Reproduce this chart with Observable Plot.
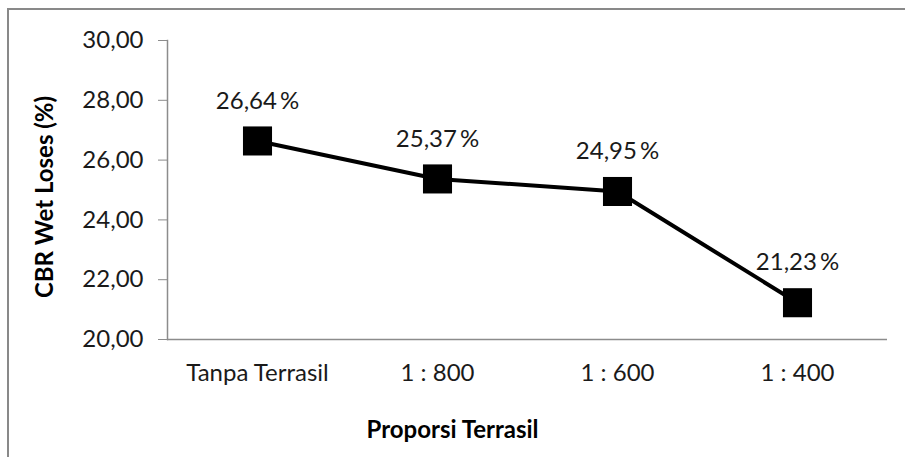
<!DOCTYPE html>
<html>
<head>
<meta charset="utf-8">
<script src="https://cdn.jsdelivr.net/npm/d3@7"></script>
<script src="https://cdn.jsdelivr.net/npm/@observablehq/plot@0.6"></script>
<style>
  html, body { margin: 0; padding: 0; background: #fff; overflow: hidden; }
  #wrap { position: relative; width: 905px; height: 457px; }
  #border { position: absolute; left: 7px; top: 8px; width: 1000px; height: 1000px; border: 2px solid #898989; box-sizing: border-box; }
  #chart { position: absolute; left: 0; top: 0; }
</style>
</head>
<body>
<div id="wrap"><div id="border"></div><div id="chart"></div></div>
<script>
const categories = ["Tanpa Terrasil", "1 : 800", "1 : 600", "1 : 400"];
const values = [26.64, 25.37, 24.95, 21.23];
const yTicks = [20, 22, 24, 26, 28, 30];
const yLabel = "CBR Wet Loses (%)";
const xLabel = "Proporsi Terrasil";

const data = categories.map((c, i) => ({cat: c, v: values[i]}));
const fmt = d => d.toFixed(2).replace(".", ",");
const font = "Lato, 'Open Sans', sans-serif";

const chart = Plot.plot({
  width: 905,
  height: 457,
  marginLeft: 167,
  marginRight: 18,
  marginTop: 40,
  marginBottom: 118,
  style: {fontFamily: font, fontSize: "24px", color: "#1a1a1a", background: "transparent"},
  x: {type: "band", domain: categories, padding: 0, label: null},
  y: {domain: [20, 30], label: null},
  marks: [
    Plot.frame({anchor: "left", stroke: "#8c8c8c", strokeWidth: 1.5}),
    Plot.ruleY([20], {stroke: "#8c8c8c", strokeWidth: 1.5}),
    Plot.axisY({ticks: yTicks, tickFormat: fmt, tickSize: 9, tickPadding: 15, stroke: "#8c8c8c", label: null, fontSize: 24}),
    Plot.axisX({tickSize: 0, tickPadding: 24, label: null, fontSize: 24}),
    Plot.line(data, {x: "cat", y: "v", stroke: "black", strokeWidth: 4}),
    Plot.dot(data, {x: "cat", y: "v", symbol: "square", r: 16.4, fill: "black", stroke: "none"}),
    Plot.text(data, {x: "cat", y: "v", text: d => fmt(d.v) + "\u2009%", dy: -40, fontSize: 24, fill: "#1a1a1a"}),
    Plot.text([yLabel], {frameAnchor: "left", textAnchor: "middle", lineAnchor: "middle", text: d => d, rotate: -90, dx: -122, dy: 7, fontWeight: "bold", fontSize: 24, fill: "#000"}),
    Plot.text([xLabel], {frameAnchor: "bottom", textAnchor: "middle", lineAnchor: "middle", text: d => d, dx: -75, dy: 91, fontWeight: "bold", fontSize: 24, fill: "#000"})
  ]
});
document.getElementById("chart").appendChild(chart);
</script>
</body>
</html>
